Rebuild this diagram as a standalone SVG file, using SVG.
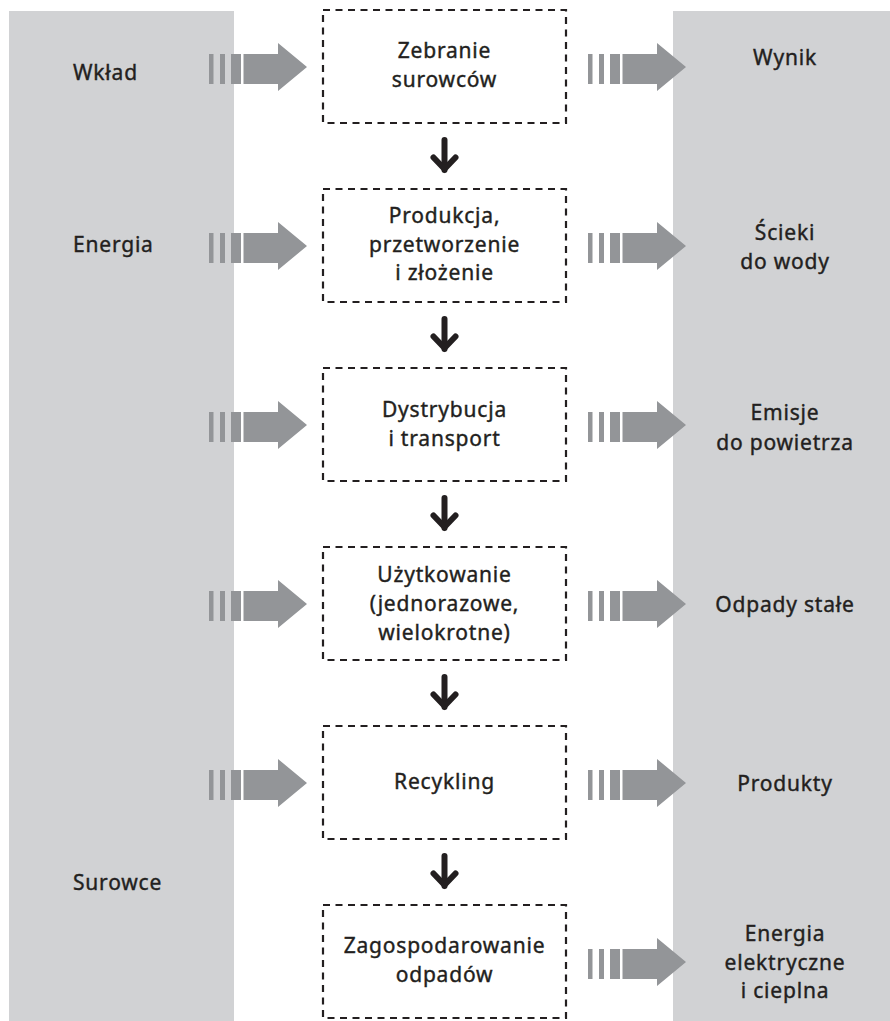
<svg xmlns="http://www.w3.org/2000/svg" width="890" height="1021" viewBox="0 0 890 1021">
<style>
.panel{fill:#d1d2d4}
.box{fill:none;stroke:#231f20;stroke-width:2.2;stroke-dasharray:7 5.5}
.t{font-family:"Noto Sans","DejaVu Sans",sans-serif;font-size:21px;fill:#231f20;stroke:#231f20;stroke-width:0.4;letter-spacing:0.8px}
.c{text-anchor:middle}
.ha{fill:#939598}
.da{fill:none;stroke:#231f20;stroke-width:6}
</style>
<defs>
<g id="harrow" class="ha">
<rect x="0" y="-13" width="4.5" height="30"/>
<rect x="11" y="-13" width="5" height="30"/>
<rect x="22" y="-13" width="10" height="30"/>
<path d="M34.5,-13 H69 V-24 L98,0 L69,24 V17 H34.5 Z"/>
</g>
<g id="darrow" class="da">
<path d="M0,0 V30" stroke-linecap="round"/>
<path d="M-11,17.5 L0,29 L11,17.5" stroke-linecap="round" stroke-linejoin="miter"/>
</g>
</defs>
<g id="panels">
<rect class="panel" x="9" y="11" width="225" height="1010"/>
<rect class="panel" x="673" y="11" width="217" height="1010"/>
</g>
<g id="left-labels">
<text class="t" x="73" y="80">Wkład</text>
<text class="t" x="73" y="252">Energia</text>
<text class="t" x="73" y="890">Surowce</text>
</g>
<g id="right-labels">
<text class="t c" x="785" y="65">Wynik</text>
<text class="t c" x="785" y="240">Ścieki</text>
<text class="t c" x="785" y="269">do wody</text>
<text class="t c" x="785" y="420">Emisje</text>
<text class="t c" x="785" y="450">do powietrza</text>
<text class="t c" x="785" y="612">Odpady stałe</text>
<text class="t c" x="785" y="791">Produkty</text>
<text class="t c" x="785" y="941">Energia</text>
<text class="t c" x="785" y="970">elektryczne</text>
<text class="t c" x="785" y="998">i cieplna</text>
</g>
<g id="node1">
<rect class="box" x="323" y="10" width="243" height="113"/>
<text class="t c" x="444.5" y="58">Zebranie</text>
<text class="t c" x="444.5" y="87">surowców</text>
</g>
<g id="node2">
<rect class="box" x="323" y="189" width="243" height="113"/>
<text class="t c" x="444.5" y="223">Produkcja,</text>
<text class="t c" x="444.5" y="252">przetworzenie</text>
<text class="t c" x="444.5" y="280">i złożenie</text>
</g>
<g id="node3">
<rect class="box" x="323" y="368" width="243" height="113"/>
<text class="t c" x="444.5" y="417">Dystrybucja</text>
<text class="t c" x="444.5" y="446">i transport</text>
</g>
<g id="node4">
<rect class="box" x="323" y="547" width="243" height="113"/>
<text class="t c" x="444.5" y="582">Użytkowanie</text>
<text class="t c" x="444.5" y="611">(jednorazowe,</text>
<text class="t c" x="444.5" y="640">wielokrotne)</text>
</g>
<g id="node5">
<rect class="box" x="323" y="726" width="243" height="113"/>
<text class="t c" x="444.5" y="789">Recykling</text>
</g>
<g id="node6">
<rect class="box" x="323" y="905" width="243" height="113"/>
<text class="t c" x="444.5" y="953">Zagospodarowanie</text>
<text class="t c" x="444.5" y="982">odpadów</text>
</g>
<g id="connectors">
<use href="#harrow" x="209" y="67"/>
<use href="#harrow" x="209" y="246"/>
<use href="#harrow" x="209" y="425"/>
<use href="#harrow" x="209" y="604"/>
<use href="#harrow" x="209" y="783"/>
<use href="#harrow" x="588" y="67"/>
<use href="#harrow" x="588" y="246"/>
<use href="#harrow" x="588" y="425"/>
<use href="#harrow" x="588" y="604"/>
<use href="#harrow" x="588" y="783"/>
<use href="#harrow" x="588" y="962"/>
<use href="#darrow" x="444.5" y="140"/>
<use href="#darrow" x="444.5" y="319"/>
<use href="#darrow" x="444.5" y="498"/>
<use href="#darrow" x="444.5" y="677"/>
<use href="#darrow" x="444.5" y="856"/>
</g>
</svg>
